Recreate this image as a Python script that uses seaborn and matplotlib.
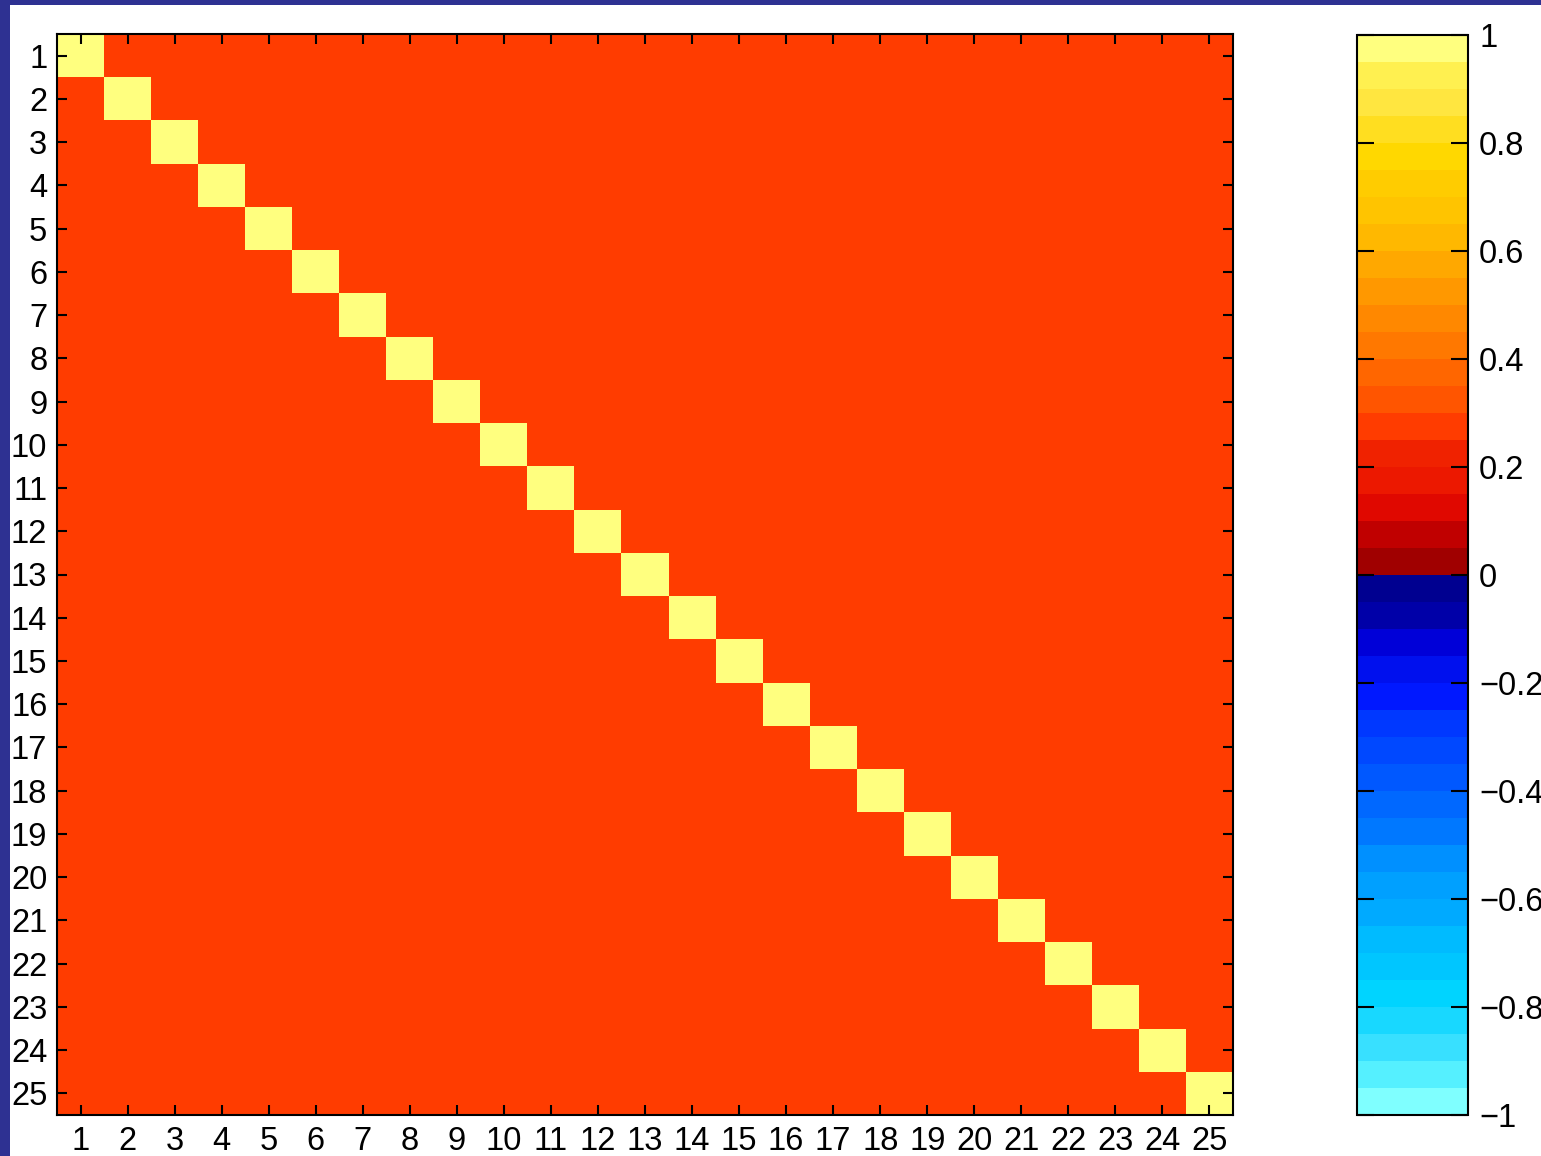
import numpy as np
import pandas as pd
import matplotlib
matplotlib.use("Agg")
import matplotlib.pyplot as plt
from matplotlib.colors import ListedColormap
from matplotlib.patches import Rectangle
import seaborn as sns

# ---- data ----
labels = [str(i) for i in range(1, 26)]
diag_value = 1.0
offdiag_value = 0.27
cbar_ticks = [-1, -0.8, -0.6, -0.4, -0.2, 0, 0.2, 0.4, 0.6, 0.8, 1]
cbar_ticklabels = ["\u22121", "\u22120.8", "\u22120.6", "\u22120.4", "\u22120.2",
                   "0", "0.2", "0.4", "0.6", "0.8", "1"]

# colormap bands, from -1 up to 1 (40 bands of 0.05)
neg_colors = ["#7FFFFF", "#55F0FF", "#38E0FF", "#18D8FF", "#00D4FF",
              "#00C6FF", "#00BBFF", "#00AAFF", "#00A0FF", "#0090FF",
              "#0078FF", "#0068FF", "#0058FF", "#0048FF", "#0038FF",
              "#0018FF", "#0010EE", "#0000D8", "#0000A8", "#000090"]
pos_colors = ["#A00000", "#C00000", "#E00800", "#EC1800", "#F02200",
              "#FF3C00", "#FF5500", "#FF6600", "#FF7800", "#FF8800",
              "#FF9800", "#FFA800", "#FFB800", "#FFC400", "#FFCC00",
              "#FFD800", "#FFDE20", "#FFE640", "#FFF050", "#FFFF7F"]

n = len(labels)
matrix = np.full((n, n), offdiag_value)
np.fill_diagonal(matrix, diag_value)
df = pd.DataFrame(matrix, index=labels, columns=labels)

cmap = ListedColormap(neg_colors + pos_colors)

W, H = 1541, 1156
fig = plt.figure(figsize=(W / 100, H / 100), dpi=100)
fig.patch.set_facecolor("white")
plt.rcParams["font.family"] = ["Liberation Sans", "DejaVu Sans"]

ax = fig.add_axes([57 / W, 1 - 1115 / H, 1176 / W, 1081 / H])
cax = fig.add_axes([1357 / W, 1 - 1115 / H, 111 / W, 1080 / H])

sns.heatmap(df, ax=ax, cbar_ax=cax, cmap=cmap, vmin=-1, vmax=1,
            xticklabels=labels, yticklabels=labels, square=False)

for s in ax.spines.values():
    s.set_visible(True)
    s.set_linewidth(1.5)
    s.set_color("black")

FS = 23.5
ax.tick_params(axis="both", direction="in", length=7, width=1.5,
               top=True, right=True, bottom=True, left=True,
               labelsize=FS, colors="black")
ax.tick_params(axis="x", pad=8)
ax.tick_params(axis="y", pad=7)
plt.setp(ax.get_yticklabels(), rotation=0, va="center_baseline")
plt.setp(ax.get_xticklabels(), rotation=0)
ax.set_xlabel("")
ax.set_ylabel("")

cbar = ax.collections[0].colorbar
cbar.set_ticks(cbar_ticks)
cbar.set_ticklabels(cbar_ticklabels)
cbar.outline.set_linewidth(1.5)
cbar.outline.set_edgecolor("black")
cax.tick_params(direction="in", length=12, width=1.5, left=True, right=True,
                labelsize=FS, pad=8)
plt.setp(cax.get_yticklabels(), va="center_baseline")

# dark blue frame strips
fig.patches.append(Rectangle((0, 0), 10 / W, 1, transform=fig.transFigure,
                             facecolor="#2E3192", edgecolor="none", zorder=10))
fig.patches.append(Rectangle((0, 1 - 5 / H), 1, 5 / H, transform=fig.transFigure,
                             facecolor="#2E3192", edgecolor="none", zorder=10))

fig.savefig("out.png", dpi=100)
